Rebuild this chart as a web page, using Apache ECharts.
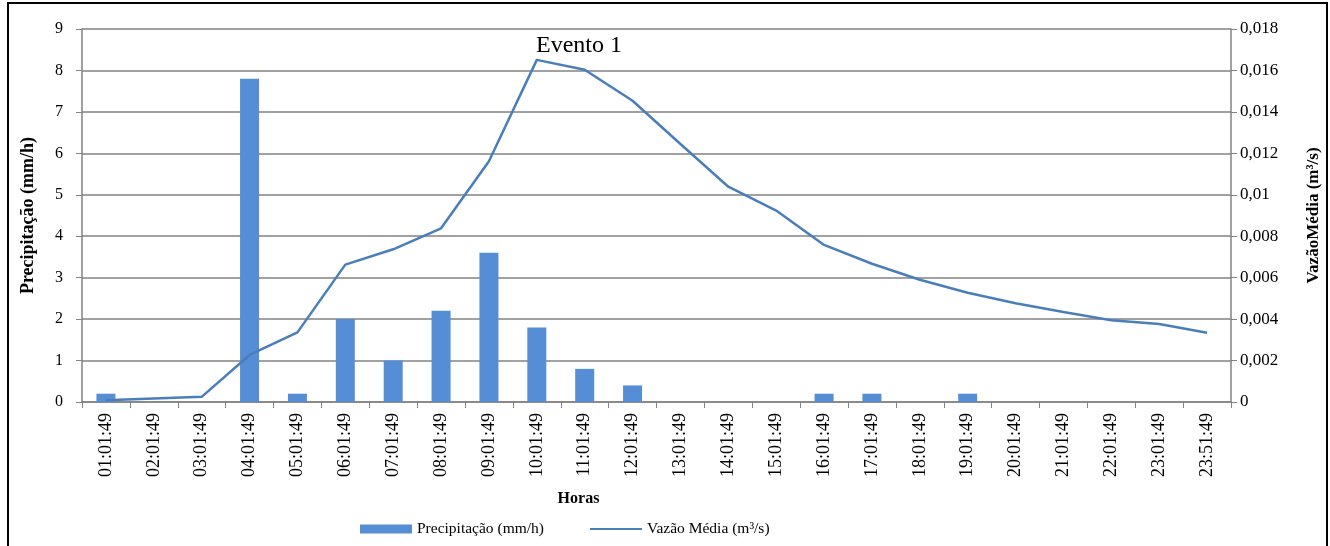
<!DOCTYPE html>
<html>
<head>
<meta charset="utf-8">
<script src="https://cdn.jsdelivr.net/npm/echarts@6/dist/echarts.min.js"></script>
<style>
  html, body { margin: 0; padding: 0; background: #fff; }
  #chart { width: 1330px; height: 546px; }
</style>
</head>
<body>
<div id="chart"></div>
<script>
// Hourly readings of the event
const horas = [
  '01:01:49', '02:01:49', '03:01:49', '04:01:49', '05:01:49', '06:01:49',
  '07:01:49', '08:01:49', '09:01:49', '10:01:49', '11:01:49', '12:01:49',
  '13:01:49', '14:01:49', '15:01:49', '16:01:49', '17:01:49', '18:01:49',
  '19:01:49', '20:01:49', '21:01:49', '22:01:49', '23:01:49', '23:51:49'
];

// Rainfall intensity (mm/h)
const precipitacao = [
  0.2, 0, 0, 7.8, 0.2, 2.0, 1.0, 2.2, 3.6, 1.8, 0.8, 0.4,
  0, 0, 0, 0.2, 0.2, 0, 0.2, 0, 0, 0, 0, 0
];

// Mean discharge (m³/s)
const vazaoMedia = [
  0.00008, 0.00017, 0.00025, 0.00227, 0.00336, 0.00663, 0.00737, 0.00838,
  0.01162, 0.01651, 0.01603, 0.01454, 0.01245, 0.01039, 0.00924, 0.00758,
  0.00667, 0.00590, 0.00527, 0.00477, 0.00434, 0.00395, 0.00376, 0.00334
];

const serif = '"Liberation Serif", "Times New Roman", serif';
const gray = '#828282';

// thin horizontal stroke for the line legend entry (the outer moves keep the full icon box)
const lineIcon = 'path://M0,0 M0,9 M0,3.6 L52,3.6 L52,5.4 L0,5.4 Z';

const chart = echarts.init(document.getElementById('chart'), null, { renderer: 'canvas' });

chart.setOption({
  backgroundColor: '#ffffff',
  animation: false,
  textStyle: { fontFamily: serif, color: '#000' },
  title: {
    text: 'Evento 1',
    left: 531,
    top: 29,
    textStyle: { fontFamily: serif, fontSize: 24, fontWeight: 'normal', color: '#000' }
  },
  legend: {
    left: 360,
    top: 521,
    padding: 0,
    itemWidth: 52,
    itemHeight: 9,
    itemGap: 46,
    textStyle: { fontFamily: serif, fontSize: 15.5, color: '#000' },
    data: [
      { name: 'Precipitação (mm/h)', icon: 'rect' },
      { name: 'Vazão Média (m³/s)', icon: lineIcon }
    ]
  },
  grid: { left: 82, right: 90, top: 29, bottom: 144 },
  xAxis: {
    type: 'category',
    data: horas,
    boundaryGap: true,
    name: 'Horas',
    nameLocation: 'middle',
    nameGap: 89,
    nameTextStyle: {
      fontFamily: serif, fontSize: 16, fontWeight: 'bold', color: '#000',
      padding: [0, 156, 0, 0]
    },
    axisLine: { lineStyle: { color: gray, width: 1.5 } },
    axisTick: { show: true, length: 6, inside: false, lineStyle: { color: gray } },
    axisLabel: {
      rotate: 90, margin: 11, interval: 0,
      fontFamily: serif, fontSize: 18, color: '#000'
    },
    splitLine: { show: false }
  },
  yAxis: [
    {
      type: 'value',
      min: 0, max: 9, interval: 1,
      name: 'Precipitação (mm/h)',
      nameLocation: 'middle',
      nameRotate: 90,
      nameGap: 45,
      nameTextStyle: { fontFamily: serif, fontSize: 18, fontWeight: 'bold', color: '#000' },
      axisLine: { show: true, lineStyle: { color: gray, width: 1.5 } },
      axisTick: { show: true, length: 6, lineStyle: { color: gray } },
      axisLabel: { margin: 19, fontFamily: serif, fontSize: 16, color: '#000' },
      splitLine: { show: true, lineStyle: { color: gray, width: 1.6 } }
    },
    {
      type: 'value',
      position: 'right',
      min: 0, max: 0.018, interval: 0.002,
      name: 'VazãoMédia (m³/s)',
      nameLocation: 'middle',
      nameRotate: 90,
      nameGap: 74,
      nameTextStyle: { fontFamily: serif, fontSize: 17, fontWeight: 'bold', color: '#000' },
      axisLine: { show: true, lineStyle: { color: gray, width: 1.5 } },
      axisTick: { show: true, length: 6, lineStyle: { color: gray } },
      axisLabel: {
        margin: 9, fontFamily: serif, fontSize: 17, color: '#000',
        formatter: v => (v === 0 ? '0' : String(+v.toFixed(3)).replace('.', ','))
      },
      splitLine: { show: false }
    }
  ],
  series: [
    {
      name: 'Precipitação (mm/h)',
      type: 'bar',
      yAxisIndex: 0,
      data: precipitacao,
      barWidth: 19,
      itemStyle: { color: '#558ED5' },
      z: 2
    },
    {
      name: 'Vazão Média (m³/s)',
      type: 'line',
      yAxisIndex: 1,
      data: vazaoMedia,
      symbol: 'none',
      lineStyle: { color: '#4A7EBB', width: 2.5 },
      itemStyle: { color: '#4A7EBB' },
      z: 3
    }
  ],
  graphic: [
    {
      type: 'rect',
      shape: { x: 8, y: 3, width: 1319, height: 570 },
      style: { fill: 'none', stroke: '#000', lineWidth: 2 },
      silent: true,
      z: 100
    }
  ]
});
</script>
</body>
</html>
